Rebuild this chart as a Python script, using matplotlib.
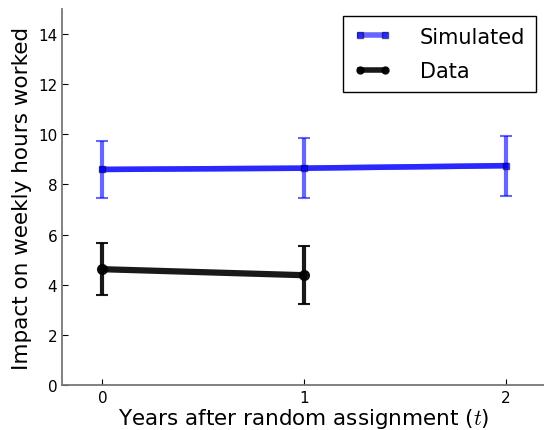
import matplotlib
matplotlib.use('Agg')
import matplotlib.pyplot as plt
from matplotlib.lines import Line2D

# Data
years = [0, 1, 2]
sim_mean = [8.6, 8.65, 8.75]
sim_low = [7.48, 7.45, 7.55]
sim_high = [9.75, 9.85, 9.95]

data_years = [0, 1]
data_mean = [4.62, 4.38]
data_low = [3.6, 3.25]
data_high = [5.65, 5.55]

plt.rcParams['mathtext.fontset'] = 'cm'

sim_err = [[m - l for m, l in zip(sim_mean, sim_low)],
           [h - m for m, h in zip(sim_mean, sim_high)]]
data_err = [[m - l for m, l in zip(data_mean, data_low)],
            [h - m for m, h in zip(data_mean, data_high)]]

fig = plt.figure(figsize=(5.44, 4.31), dpi=100)
ax = fig.add_axes([62 / 544, 45 / 431, 484 / 544, 376 / 431])

ax.errorbar(years, sim_mean, yerr=sim_err, color='blue', alpha=0.6, lw=4,
            elinewidth=3, capsize=4, capthick=1.5, marker='s', ms=5,
            mec='#000060')
ax.plot(years, sim_mean, color='blue', alpha=0.6, lw=4)
ax.errorbar(data_years, data_mean, yerr=data_err, color='black', alpha=0.9,
            lw=4.5, elinewidth=3, capsize=4, capthick=1.5, marker='o', ms=7)

ax.set_xlim(-0.2, 2.2)
ax.set_ylim(0, 15)
ax.set_xticks([0, 1, 2])
ax.set_yticks(range(0, 16, 2))
ax.spines['top'].set_visible(False)
ax.spines['right'].set_visible(False)
for s in ['left', 'bottom']:
    ax.spines[s].set_color('#777777')
    ax.spines[s].set_linewidth(1.3)
ax.tick_params(direction='in', length=4, labelsize=11, top=False, right=False)

ax.set_xlabel('Years after random assignment ($t$)', fontsize=15.5, labelpad=1)
ax.set_ylabel('Impact on weekly hours worked', fontsize=15.5)

handles = [
    Line2D([], [], color='blue', alpha=0.6, lw=4, marker='s', ms=5, mec='#000060'),
    Line2D([], [], color='black', alpha=0.9, lw=4, marker='o', ms=5),
]
leg = ax.legend(handles, ['Simulated', 'Data'], loc='upper right', fontsize=15,
                numpoints=2, fancybox=False, framealpha=1, edgecolor='black',
                handlelength=1.8, handletextpad=1.4, labelspacing=0.7,
                borderpad=0.5, borderaxespad=0, bbox_to_anchor=(0.979, 0.981))
leg.get_frame().set_linewidth(1.0)

fig.savefig('out.png', dpi=100)
